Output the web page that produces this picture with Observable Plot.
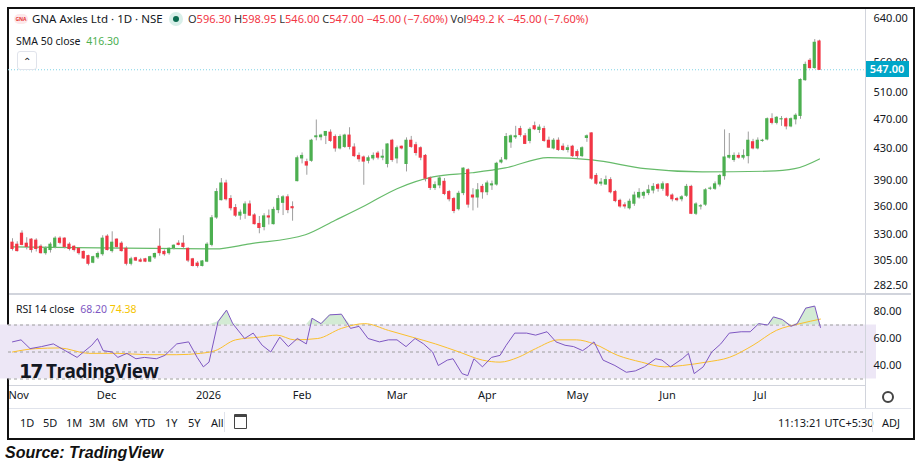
<!DOCTYPE html>
<html><head><meta charset="utf-8">
<script src="https://cdn.jsdelivr.net/npm/d3@7"></script>
<script src="https://cdn.jsdelivr.net/npm/@observablehq/plot@0.6"></script>
<style>
body{margin:0;background:#fff;font-family:"Noto Sans",Roboto,sans-serif;}
#wrap{position:relative;width:919px;height:467px;overflow:hidden;}
#frame{position:absolute;left:7px;top:7px;width:904px;height:429px;border:2px solid #111;box-sizing:content-box;}
.abs{position:absolute;white-space:nowrap;}
svg{overflow:visible}
</style></head><body>
<div id="wrap">
<div id="frame"></div>
<div id="price" class="abs" style="left:8px;top:0px"></div>
<div id="rsi" class="abs" style="left:8px;top:290px"></div>
</div>
<script>
// ---- data ----
const opens  = [322,320,331,321,325,324,318,312,315,318,326,326,320,318,316,313,309,303,308,311,
 328,314,325,321,316,302,307,305,306,304,308,318,313,312,317,321,321,316,306,302,300,304,
 320,348,367,386,368,358,350,352,362,350,341,338,349,341,356,364,370,359,
 389,417,412,414,445,445,447,451,445,430,432,447,431,420,418,414,417,423,418,410,
 440,417,432,410,440,434,430,420,392,381,384,388,376,368,357,375,402,372,370,382,
 376,384,385,412,416,438,445,456,446,440,460,455,456,440,430,440,432,428,432,425,
 420,444,450,395,386,385,390,376,366,361,358,363,370,372,375,378,384,380,385,372,
 368,368,372,382,352,360,362,380,380,385,395,418,415,420,418,420,438,430,440,442,
 470,465,470,470,460,470,475,530,562,550,596.3];
const highs  = [326,323,334,327,326,326,320,318,322,328,328,327,322,319,317,314,310,309,313,329,
 330,333,326,323,318,308,308,307,307,309,312,336,315,317,320,324,329,317,307,304,305,322,
 350,380,392,390,372,362,356,365,366,352,349,352,356,359,372,372,373,365,
 420,424,416,442,469,449,452,455,448,448,449,458,436,424,420,420,424,426,428,436,
 442,433,433,444,446,438,432,422,394,388,395,392,378,370,377,405,404,380,386,385,
 389,389,412,418,450,448,460,460,450,458,466,462,460,445,443,444,436,434,434,428,
 432,448,451,398,392,395,393,378,368,364,368,376,380,377,384,386,386,388,386,374,
 370,372,385,384,364,362,380,382,388,397,455,450,424,424,428,452,442,444,442,472,
 478,474,474,472,472,478,532,560,566,600,598.95];
const lows   = [314,313,319,315,312,313,311,310,312,316,320,316,314,313,310,306,300,302,306,309,
 314,312,316,313,300,300,304,303,303,303,306,309,309,310,315,319,316,303,299,298,299,303,
 318,346,366,366,355,348,345,346,349,340,331,334,340,340,352,350,352,344,
 388,410,396,412,440,440,435,438,425,428,430,428,418,412,384,410,414,415,414,405,
 412,410,428,400,430,420,414,388,378,378,380,372,365,352,355,372,358,355,358,368,
 372,378,383,410,414,430,442,445,435,436,454,450,438,430,428,426,426,424,418,416,
 418,438,390,384,383,384,374,364,358,357,356,360,368,368,372,374,376,377,370,365,
 365,365,370,351,350,356,360,378,378,382,390,416,412,416,415,410,428,428,438,440,
 462,462,460,455,458,462,470,528,548,548,546];
const closes = [316,314,320,318,315,316,312,316,320,326,322,318,316,315,312,307,302,308,311,326,
 315,322,318,314,302,306,305,304,304,308,311,312,311,316,319,320,318,305,300,300,304,320,
 347,376,386,368,358,350,353,362,350,341,337,349,348,356,368,370,356,358,
 417,420,408,440,446,447,452,440,430,445,447,432,420,416,413,417,420,418,419,435,
 415,430,430,440,432,424,418,392,381,384,392,374,368,355,374,404,362,370,378,376,
 386,385,410,414,445,446,446,448,436,455,456,458,440,431,440,428,428,430,420,420,
 430,446,392,386,387,390,376,366,360,360,365,372,375,375,378,382,380,385,372,368,
 367,370,382,352,362,360,378,380,385,395,418,420,420,418,420,440,430,440,440,470,
 465,472,470,460,470,475,530,555,550,594,547];
const smaIdx = [0,18.5,42.7,50,61.7,68,74.3,81,88.6,96.8,103.8,112.8,122.1,133.3,145.3,159.2,164.8,170];
const smaVal = [318,317,316,321,330,345,361,380,394,399,405,418,415,404,400,401,404,416.3];
const rsiIdx = [0,1.8,3.7,6.1,8.6,11.1,13.6,16.7,17.9,19.1,21,22.2,24.1,26,27.8,30.3,32.1,34.6,37.1,38.9,40.2,41.4,43.3,45.1,46.4,48.9,50.7,52.6,54.4,56.3,58.1,60,61.9,63.1,65,66.8,69.3,71.2,73,74.9,77.3,79.2,81,82.9,84.8,86.6,88.5,89.7,91.6,92.8,94.7,95.9,97.2,99,100.9,102.7,104,105.8,108.3,110.2,112.6,114.5,116.4,118.2,120.1,121.3,122.5,124.4,126.9,129.3,131.2,133.1,135.5,136.8,138.6,141.1,142.4,143.6,145.5,147.3,149.2,151,153.5,155.4,157.2,159.1,160.3,162.2,164,165.3,167.1,169,170.2];
const rsiVal = [57.5,59,52.5,54,56,51,46,55,60,51,50,46,49,45,46,45,47.5,56,57.5,46,39,42.5,72.5,81,71,60,64,55,50,61,54,60,56,75,71,77.5,78,67.5,69,60,57.5,59,59,54,60,56,50,40,44,45,34,32.5,45,39,46,47.5,55,64,64,62.5,65,57.5,55,54,51,54,57.5,44,40,35,36,39,45,44,39,45,49,34,39,50,56,64,65,65,71,70,76,74,69,71,82.5,84,68.2];
const maIdx = [0,4.9,9.9,16,22.2,28.4,34.6,39.6,42.7,47,52,55.7,59.4,64.3,69.3,74.2,79.2,84.2,89.1,94.1,99,102.7,106.5,110.2,115.1,118.8,122.5,127.5,132.5,137.4,141.1,146.1,151,156,160.9,165.9,170.2];
const maVal = [50,52.5,53,49,49,48,48,49,51,59,61,62.5,59,60,67.5,71,66,61,56,50,44,42.5,46,52.5,59,59,56,47.5,42.5,39,40,42.5,46,55,66,71,74.38];
const priceTicks = [282.5,305,330,360,390,430,470,510,560,640];
const monthLabels = ["Nov","Dec","2026","Feb","Mar","Apr","May","Jun","Jul"];
const monthIdx = [1.3,19.8,41.3,61,81,100,119,138,157.5];
const lastClose = 547;

const bars = opens.map((o,i)=>({i,o,h:highs[i],l:lows[i],c:closes[i],up:closes[i]>=o}));
const sma = smaIdx.map((x,k)=>({x,v:smaVal[k]}));
const rsi = rsiIdx.map((x,k)=>({x,v:rsiVal[k]}));
const ma = maIdx.map((x,k)=>({x,v:maVal[k]}));
const GREEN="#4caf50", RED="#f23645";
const xr = [4,811];
const W = 905;

const price = Plot.plot({
  width:W, height:295, marginLeft:0, marginRight:48, marginTop:0, marginBottom:0,
  x:{domain:[0,170], range:xr, axis:null},
  y:{type:"log", domain:[282.5,640], range:[285,18], axis:null},
  style:{fontFamily:"Noto Sans, Roboto, sans-serif", fontSize:"11px", color:"#131722"},
  marks:[
    Plot.ruleY([lastClose],{stroke:"#7fd3e6", strokeDasharray:"1,2", strokeWidth:1}),
    Plot.line(sma,{x:"x",y:"v",stroke:"#66bb6a",strokeWidth:1.2,curve:"monotone-x"}),
    Plot.ruleX(bars,{x:"i",y1:"l",y2:"h",stroke:"#9e9e9e",strokeWidth:1}),
    Plot.rect(bars,{x1:d=>d.i-0.34,x2:d=>d.i+0.34,y1:d=>Math.min(d.o,d.c),y2:d=>Math.max(d.o,d.c),
      fill:d=>d.up?GREEN:RED,insetTop:-0.6,insetBottom:-0.6}),
    Plot.axisY({anchor:"right",label:null,ticks:priceTicks,tickFormat:d=>d.toFixed(2),tickSize:0,tickPadding:8,fill:"#131722"}),
  ]
});
document.getElementById("price").appendChild(price);
const ys = price.scale("y");

const rsiPlot = Plot.plot({
  width:W, height:115, marginLeft:0, marginRight:48, marginTop:0, marginBottom:20,
  x:{domain:[0,170], range:xr, axis:null},
  y:{domain:[40,80], range:[75,21], axis:null},
  style:{fontFamily:"Noto Sans, Roboto, sans-serif", fontSize:"11px", color:"#131722"},
  marks:[
    Plot.rectY([0],{x1:-10,x2:182,y1:30,y2:70,fill:"#ede7f6",clip:false}),
    Plot.ruleY([30,50,70],{stroke:"#9e9e9e",strokeDasharray:"3,3",strokeWidth:1}),
    Plot.areaY(rsi,{x:"x",y1:70,y2:d=>Math.max(70,d.v),fill:"#c8e6c9",fillOpacity:0.8}),
    Plot.line(ma,{x:"x",y:"v",stroke:"#fbc02d",strokeWidth:1,curve:"monotone-x"}),
    Plot.line(rsi,{x:"x",y:"v",stroke:"#7e57c2",strokeWidth:1}),
    Plot.axisY({anchor:"right",label:null,ticks:[40,60,80],tickFormat:d=>d.toFixed(2),tickSize:0,tickPadding:8,fill:"#131722"}),
    Plot.axisX({anchor:"bottom",label:null,ticks:monthIdx,tickFormat:d=>monthLabels[monthIdx.indexOf(d)],tickSize:0,tickPadding:6,fill:"#131722",textAnchor:"middle"}),
  ]
});
document.getElementById("rsi").appendChild(rsiPlot);

// overlays
const wrap = document.getElementById("wrap");
function add(html){wrap.insertAdjacentHTML("beforeend",html);}
const yLast = ys.apply(lastClose);
add(`<div class="abs" style="left:865px;top:${yLast-8}px;width:44px;height:16px;background:#00a6c8;color:#fff;font-size:11px;font-weight:600;line-height:16px;text-align:center;">547.00</div>`);
add(`<div class="abs" style="left:865px;top:9px;width:1px;height:400px;background:#d1d4dc"></div>`);
add(`<div class="abs" style="left:9px;top:293px;width:902px;height:2px;background:#d1d4dc"></div>`);
add(`<div class="abs" style="left:9px;top:385px;width:856px;height:1px;background:#d1d4dc"></div>`);
add(`<div class="abs" style="left:9px;top:408px;width:902px;height:1px;background:#e0e3eb"></div>`);
// header
add(`<div class="abs" style="left:14px;top:14px;width:14px;height:10px;border-radius:5px;background:#fde8ea;color:#e53935;font-size:5px;font-weight:700;line-height:10px;text-align:center">GNA</div>`);
add(`<div class="abs" style="left:32px;top:11px;font-size:11.5px;color:#131722">GNA Axles Ltd · 1D · NSE</div>`);
add(`<div class="abs" style="left:169px;top:12px;width:14px;height:14px;border-radius:7px;background:#d8efe9"><div style="margin:4px;width:6px;height:6px;border-radius:3px;background:#0b6b50"></div></div>`);
add(`<div class="abs" style="left:188px;top:11px;font-size:11px;color:#f23645"><span style="color:#333">O</span>596.30 <span style="color:#333">H</span>598.95 <span style="color:#333">L</span>546.00 <span style="color:#333">C</span>547.00 −45.00 (−7.60%) <span style="color:#333">Vol</span>949.2 K −45.00 (−7.60%)</div>`);
add(`<div class="abs" style="left:16px;top:34px;font-size:10.5px;color:#131722">SMA 50 close <span style="color:#4caf50;margin-left:3px">416.30</span></div>`);
add(`<div class="abs" style="left:17px;top:51px;width:18px;height:17px;border:1px solid #e0e3eb;border-radius:3px;font-size:10px;text-align:center;line-height:19px;color:#131722">⌃</div>`);
add(`<div class="abs" style="left:16px;top:302px;font-size:10.5px;color:#131722">RSI 14 close <span style="color:#7e57c2;margin-left:3px">68.20</span> <span style="color:#f5c400">74.38</span></div>`);
// watermark
add(`<div class="abs" style="left:19px;top:358px;font-size:19px;font-weight:700;color:#131722;letter-spacing:-0.5px;font-family:'Open Sans',sans-serif"><span style="font-family:'DejaVu Sans';font-weight:900;letter-spacing:-2px">17</span> TradingView</div>`);
// gear
add(`<div class="abs" style="left:882px;top:391px;width:8px;height:8px;border:2px solid #444;border-radius:50%"></div>`);
// toolbar
const tb=["1D","5D","1M","3M","6M","YTD","1Y","5Y","All"];
let tx=20; tb.forEach(t=>{add(`<div class="abs" style="left:${tx}px;top:415px;font-size:11px;color:#131722">${t}</div>`); tx+= t.length*7+9;});
add(`<div class="abs" style="left:224px;top:412px;width:1px;height:20px;background:#e0e3eb"></div>`);
add(`<div class="abs" style="left:234px;top:414px;width:11px;height:11px;border:1.5px solid #444;border-top-width:3px;border-radius:1px"></div>`);
add(`<div class="abs" style="left:778px;top:415px;font-size:11px;color:#131722">11:13:21 UTC+5:30</div>`);
add(`<div class="abs" style="left:872px;top:412px;width:1px;height:20px;background:#e0e3eb"></div>`);
add(`<div class="abs" style="left:882px;top:415px;font-size:11px;color:#131722">ADJ</div>`);
add(`<div class="abs" style="left:5px;top:444px;font-size:16px;font-weight:700;font-style:italic;color:#111;font-family:'Liberation Sans',Arial,sans-serif">Source: TradingView</div>`);
</script>
</body></html>
